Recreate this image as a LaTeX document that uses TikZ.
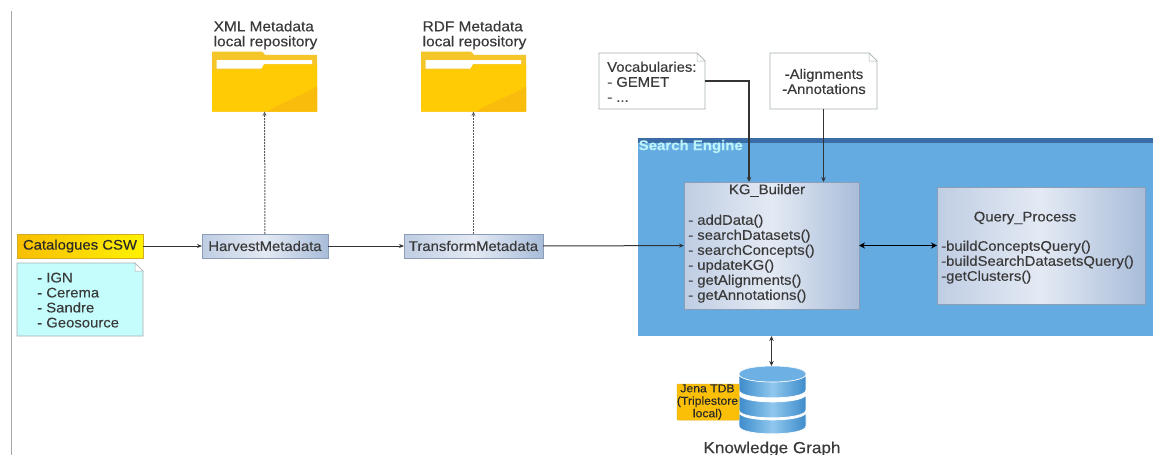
\documentclass[tikz,border=0pt]{standalone}
\usepackage{fontspec}
\setmainfont[FakeStretch=1.07,FakeBold=0.25]{Liberation Sans}
\usetikzlibrary{arrows.meta,calc}
\definecolor{inkc}{HTML}{3A3A3A}
\definecolor{lineC}{HTML}{333333}
\definecolor{boxL}{HTML}{BFCDE3}
\definecolor{boxM}{HTML}{E4EAF4}
\definecolor{boxR}{HTML}{A8BCD9}
\definecolor{boxB}{HTML}{8C9DB8}
\definecolor{seFill}{HTML}{64ABE2}
\definecolor{seTop}{HTML}{3A6DA8}
\definecolor{seText}{HTML}{BDF3FA}
\definecolor{cyanNote}{HTML}{C5FDFD}
\definecolor{noteEdge}{HTML}{A8B0B0}
\definecolor{goldL}{HTML}{F7BE00}
\definecolor{goldR}{HTML}{FFF200}
\definecolor{folderBack}{HTML}{F5C62A}
\definecolor{folderFront}{HTML}{FFCB05}
\definecolor{folderDark}{HTML}{FABC0C}
\definecolor{jenaFill}{HTML}{FBBF08}
\definecolor{dbEdge}{HTML}{3E8CCB}
\definecolor{dbMid}{HTML}{8FC7EE}
\definecolor{dbTop}{HTML}{6DB0E3}
\newcommand{\fs}[1]{\fontsize{#1}{15}\selectfont}
\newcommand{\dbdisk}[2]{%
  \path[left color=dbEdge,right color=dbEdge,middle color=dbMid,draw=white,line width=0.8pt]
    (0,#1) -- (0,#2) .. controls (0,#2+10.5) and (67,#2+10.5) .. (67,#2) -- (67,#1)
    .. controls (67,#1+10.5) and (0,#1+10.5) .. (0,#1) -- cycle;}
\newcommand{\dbart}[1]{%
  \begin{scope}[shift={(#1.north west)}]
    \dbdisk{46}{60}
    \dbdisk{28}{44}
    \dbdisk{8}{24}
    \path[fill=dbTop,draw=white,line width=0.5pt] (0,8) .. controls (0,-2.6) and (67,-2.6) .. (67,8)
      .. controls (67,18.6) and (0,18.6) .. (0,8) -- cycle;
  \end{scope}}
\newcommand{\folderart}[1]{%
  \begin{scope}[shift={(#1.north west)}]
    \fill[folderBack] (0,0) -- (50,0) -- (53,3.3) -- (105,3.3) -- (105,60) -- (0,60) -- cycle;
    \fill[white] (4.6,8.5) -- (100,8.5) -- (100,12.5) -- (52,12.5) -- (50,17) -- (4.6,17) -- cycle;
    \fill[folderFront] (0,18) -- (49,18) -- (52,13) -- (105,13) -- (105,60) -- (0,60) -- cycle;
    \fill[folderDark] (105,35) .. controls (90,44) and (72,50) .. (55,60) -- (105,60) -- cycle;
  \end{scope}}
\newcommand{\noteshape}[2]{%
  \draw[draw=noteEdge,fill=#2,line width=0.7pt] (#1.north west) -- ($(#1.north east)+(-8,0)$)
    -- ($(#1.north east)+(0,8)$) -- (#1.south east) -- (#1.south west) -- cycle;
  \draw[draw=noteEdge,fill=white,line width=0.5pt] ($(#1.north east)+(-8,0)$) -- ($(#1.north east)+(-8,8)$) -- ($(#1.north east)+(0,8)$) -- cycle;}
\tikzset{
  x=1pt,y=-1pt,
  txt/.style={inner sep=0pt,text=inkc,font=\fs{13.9}},
  listtxt/.style={txt,align=left,anchor=north west,text depth=0pt},
  slot/.style={inner sep=0pt,outer sep=0pt},
  flowbox/.style={slot,draw=boxB,line width=0.6pt,left color=boxL,right color=boxR,middle color=boxM,text=inkc,font=\fs{13.9}},
  goldbox/.style={slot,draw=goldL!70!gray,line width=0.6pt,left color=goldL,right color=goldR,text=inkc!70!black,font=\fs{13.9}},
  folderbox/.style={slot,minimum width=105pt,minimum height=60pt},
  dbbox/.style={slot,minimum width=67pt,minimum height=71pt},
  conn/.style={draw=lineC,line width=1pt,-{Stealth[length=5pt,width=4pt]}},
  connb/.style={draw=lineC,line width=1.2pt,-{Stealth[length=5pt,width=4.5pt]}},
  dotconn/.style={draw=lineC!80,line width=1pt,dash pattern=on 2pt off 1pt,-{Stealth[length=4.5pt,width=4pt,line width=0pt]}},
  bothconn/.style={draw=black,line width=1.8pt,{Stealth[length=6pt,width=6pt]}-{Stealth[length=6pt,width=6pt]}},
  boththin/.style={draw=lineC,line width=1.2pt,{Stealth[length=5pt,width=4.5pt]}-{Stealth[length=5pt,width=4.5pt]}},
}
\begin{document}
\begin{tikzpicture}
\useasboundingbox (0,0) rectangle (1154,455);
\fill[white] (0,0) rectangle (1154,455);
\coordinate (rulea) at (11,11);
\coordinate (ruleb) at (11,455);
\draw[draw=black!35,line width=1pt] (rulea) -- (ruleb);

% search engine panel
\node[slot,fill=seFill,minimum width=515.5pt,minimum height=198pt] (se) at (895.25,237) {};
\fill[seTop] (se.north west) rectangle ($(se.north east)+(0,5)$);
\node[inner sep=0pt,anchor=west,text=seText,font=\fs{14}\bfseries] (setitle) at (638.5,146.5) {Search Engine};

% source
\node[goldbox,minimum width=126pt,minimum height=24pt] (cat) at (80,246) {Catalogues CSW};
\node[slot,minimum width=126pt,minimum height=73pt] (catnote) at (80,299.5) {};
\noteshape{catnote}{cyanNote}
\node[listtxt] (catlist) at (37,272.5) {\fs{13.9}- IGN\\- Cerema\\- Sandre\\- Geosource};

% pipeline
\node[flowbox,minimum width=126pt,minimum height=24pt] (harvest) at (265,246) {HarvestMetadata};
\node[flowbox,minimum width=139pt,minimum height=24pt] (transform) at (473.5,246) {TransformMetadata};

% folders
\node[folderbox] (xmlf) at (264.5,81.5) {};
\folderart{xmlf}
\node[folderbox] (rdff) at (473.5,81.5) {};
\folderart{rdff}
\node[txt,font=\fs{14.4},align=left,anchor=south west] (xmll) at (213.5,49.5) {XML Metadata\\local repository};
\node[txt,font=\fs{14.4},align=left,anchor=south west] (rdfl) at (422.5,49.5) {RDF Metadata\\local repository};

% top notes
\node[slot,minimum width=106pt,minimum height=56pt] (voc) at (652,81) {};
\noteshape{voc}{white}
\node[listtxt] (voct) at (607,61.5) {Vocabularies:\\- GEMET\\- ...};
\node[slot,minimum width=107pt,minimum height=56pt] (ann) at (823.5,81) {};
\noteshape{ann}{white}
\node[txt,align=center] (annt) at (824,81.5) {-Alignments\\-Annotations};

% engine boxes
\node[flowbox,minimum width=175pt,minimum height=127pt] (kg) at (771.5,245.5) {};
\node[flowbox,minimum width=208pt,minimum height=117pt] (qp) at (1041,245.5) {};
\node[txt] (kgt) at (767,190.5) {KG\_Builder};
\node[listtxt] (kgl) at (688,214.5) {- addData()\\- searchDatasets()\\- searchConcepts()\\- updateKG()\\- getAlignments()\\- getAnnotations()};
\node[txt] (qpt) at (1025,218) {Query\_Process};
\node[listtxt] (qpl) at (941,240.5) {-buildConceptsQuery()\\-buildSearchDatasetsQuery()\\-getClusters()};

% knowledge graph
\node[dbbox] (db) at (772.5,401.5) {};
\dbart{db}
\node[slot,fill=jenaFill,draw=goldL!80!gray,line width=0.5pt,rounded corners=1pt,minimum width=62pt,minimum height=36pt] (jena) at (708,402) {};
\node[inner sep=0pt,align=center,text=inkc!70!black,font=\fontsize{11.4}{12.5}\selectfont] (jenat) at (707.5,402) {Jena TDB\\(Triplestore\\local)};
\node[txt,font=\fs{16}] (kgname) at (772,449) {Knowledge Graph};

% connectors
\coordinate (kgv) at (749,182);
\draw[conn] (cat) -- (harvest);
\draw[conn] (harvest) -- (transform);
\draw[conn] (transform) -- (kg);
\draw[dotconn] (harvest) -- (xmlf);
\draw[dotconn] (transform) -- (rdff);
\draw[connb] (voc.east) -| (kgv);
\draw[connb] (ann) -- (ann |- kg.north);
\draw[bothconn] (kg) -- (qp);
\draw[boththin] (kg.south |- se.south) -- (kg.south |- db.north);
\end{tikzpicture}
\end{document}
